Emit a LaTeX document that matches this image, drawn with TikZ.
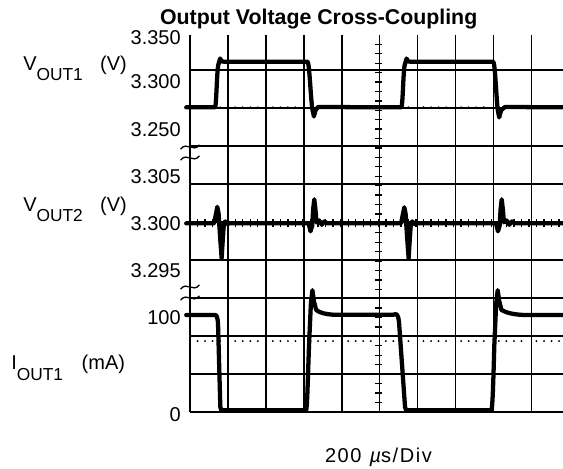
\documentclass[tikz,border=0pt]{standalone}
\usepackage{fontspec}
\setmainfont{Liberation Sans}
\usetikzlibrary{positioning}
\tikzset{
  gridline/.style={line width=1.2pt},
  trace/.style={line width=3.2pt,line join=round,line cap=round},
  minortick/.style={line width=1pt},
  breakmark/.style={line width=1pt},
  ticklabel/.style={anchor=east,inner sep=0pt,font=\fontsize{15}{15}\selectfont},
  sidelabel/.style={anchor=base west,inner sep=0pt,font=\fontsize{15}{15}\selectfont},
}
\newcommand{\subtext}[1]{\raisebox{-8pt}{\fontsize{13}{13}\selectfont #1}}
\begin{document}
\begin{tikzpicture}[x=28.245pt,y=35.3175pt]
\useasboundingbox (-5.0452,-1.1956) rectangle (9.9044,8.7428);
\clip (-5.0452,-1.1956) rectangle (9.9044,8.7428);
\draw[gridline] (0,0) grid (10,8);
\foreach \k in {1,...,39} {
   \draw[minortick] (4.912,\k/5) -- (5.088,\k/5);
}
\foreach \k in {1,...,49} {
   \draw[minortick] (\k/5,3.915) -- (\k/5,4.085);
}
\foreach \c in {0,...,9} {
   \foreach \k in {1,...,4} {
      \fill (\c+\k/5,6.464) circle (0.8pt);
      \fill (\c+\k/5,1.5) circle (0.8pt);
   }
}
\foreach \b in {5.621,5.388,2.648,2.415} {
   \draw[breakmark] (-0.25,\b-0.045) .. controls (-0.08,\b+0.13) and (0.08,\b-0.13) .. (0.25,\b+0.045);
}
\draw[trace] (-0.1,6.464) -- (0.664,6.464) .. controls (0.70,6.47) and (0.71,7.2) .. (0.75,7.36) -- (0.80,7.50) -- (0.84,7.44) -- (0.90,7.433) -- (3.12,7.433) .. controls (3.17,7.42) and (3.20,6.7) .. (3.25,6.42) -- (3.29,6.27) -- (3.33,6.40) -- (3.40,6.47) -- (5.61,6.464) .. controls (5.65,6.47) and (5.66,7.2) .. (5.70,7.36) -- (5.75,7.50) -- (5.79,7.44) -- (5.85,7.433) -- (8.05,7.433) .. controls (8.10,7.42) and (8.13,6.7) .. (8.17,6.42) -- (8.21,6.25) -- (8.26,6.40) -- (8.36,6.47) -- (10.1,6.464);
\draw[trace] (-0.1,4) -- (0.64,4) -- (0.69,4.2) -- (0.725,4.35) -- (0.76,4.2) -- (0.80,3.7) -- (0.84,3.26) -- (0.87,3.65) -- (0.90,4.0) -- (0.94,4.04) -- (0.99,3.98) -- (1.04,4) -- (3.15,4) -- (3.20,3.83) -- (3.245,3.95) -- (3.27,4.3) -- (3.30,4.51) -- (3.33,4.3) -- (3.36,4.02) -- (3.43,4.06) -- (3.50,3.97) -- (3.57,4.04) -- (3.64,4) -- (5.605,4) -- (5.655,4.2) -- (5.69,4.34) -- (5.725,4.2) -- (5.765,3.7) -- (5.805,3.26) -- (5.835,3.65) -- (5.865,4.0) -- (5.905,4.04) -- (5.955,3.98) -- (6.005,4) -- (8.127,4) -- (8.177,3.83) -- (8.222,3.95) -- (8.247,4.3) -- (8.277,4.51) -- (8.307,4.3) -- (8.337,4.02) -- (8.407,4.06) -- (8.477,3.97) -- (8.547,4.04) -- (8.617,4) -- (10.1,4);
\draw[trace] (-0.1,2.053) -- (0.67,2.053) .. controls (0.71,2.053) and (0.735,2.0) .. (0.745,1.85) -- (0.805,0.10) -- (0.83,0.03) -- (3.08,0.03) .. controls (3.11,0.05) and (3.12,0.5) .. (3.16,1.4) -- (3.21,2.3) -- (3.25,2.58) -- (3.29,2.35) -- (3.35,2.16) .. controls (3.45,2.10) and (3.6,2.07) .. (3.8,2.06) -- (5.40,2.06) .. controls (5.48,2.08) and (5.52,2.10) .. (5.55,1.9) -- (5.71,0.10) -- (5.74,0.03) -- (8.00,0.03) .. controls (8.03,0.05) and (8.05,0.5) .. (8.08,1.4) -- (8.13,2.3) -- (8.17,2.58) -- (8.21,2.35) -- (8.27,2.16) .. controls (8.4,2.10) and (8.6,2.06) .. (8.9,2.053) -- (10.1,2.053);
\node[ticklabel] (vonetop) at (-0.239,7.94) {3.350};
\node[ticklabel] (vonemid) at (-0.239,7) {3.300};
\node[ticklabel] (vonebot) at (-0.239,6) {3.250};
\node[ticklabel] (vtwotop) at (-0.239,5) {3.305};
\node[ticklabel] (vtwomid) at (-0.239,4) {3.300};
\node[ticklabel] (vtwobot) at (-0.239,3) {3.295};
\node[ticklabel] (ionetop) at (-0.239,2) {100};
\node[ticklabel] (ionebot) at (-0.239,-0.06) {0};
\node[sidelabel] (vonename) at (-4.434,7.256) {V\subtext{OUT1}\hspace{13pt}(V)};
\node[sidelabel] (vtwoname) at (-4.434,4.262) {V\subtext{OUT2}\hspace{13pt}(V)};
\node[sidelabel] (ionename) at (-4.753,0.886) {I\subtext{OUT1}\hspace{14pt}(mA)};
\node[anchor=base,inner sep=0pt,font=\bfseries\fontsize{16}{16}\selectfont] (title) at (3.417,8.23) {Output Voltage Cross-Coupling};
\node[anchor=base,inner sep=0pt,font=\fontsize{15}{15}\selectfont] (timebase) at (5.005,-1.079) {\addfontfeatures{LetterSpace=8}200\hspace{6pt}{\itshape µ}s/Div};
\end{tikzpicture}
\end{document}
